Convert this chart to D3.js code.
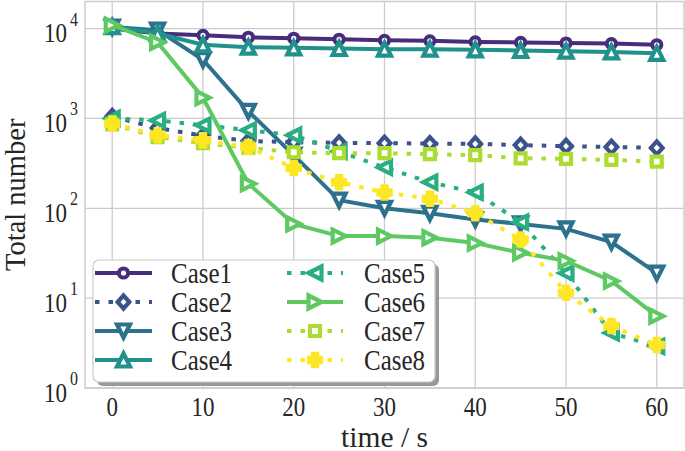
<!DOCTYPE html>
<html>
<head>
<meta charset="utf-8">
<script src="https://cdn.jsdelivr.net/npm/d3@7"></script>
<style>
  html, body { margin: 0; padding: 0; background: #fff; }
  svg { display: block; }
  text { font-family: "Liberation Serif", "Times New Roman", serif; fill: #262626; }
</style>
</head>
<body>
<svg id="chart" width="685" height="451"></svg>
<script>
// ---------------- data ----------------
const times = [0, 5, 10, 15, 20, 25, 30, 35, 40, 45, 50, 55, 60];
const seriesNames = ["Case1", "Case2", "Case3", "Case4", "Case5", "Case6", "Case7", "Case8"];
const case1 = [10000, 8800, 8400, 8000, 7800, 7600, 7400, 7300, 7100, 7000, 6900, 6800, 6600];
const case2 = [1050, 780, 640, 560, 545, 535, 530, 525, 520, 505, 490, 480, 470];
const case3 = [10400, 9600, 4500, 1200, 390, 123, 100, 88, 75, 67, 59, 42, 19];
const case4 = [10500, 8800, 6600, 6200, 6100, 6000, 5900, 5900, 5800, 5700, 5600, 5500, 5300];
const case5 = [1000, 950, 840, 740, 650, 430, 285, 195, 150, 70, 19, 4.1, 2.9];
const case6 = [10900, 7000, 1700, 188, 67, 49, 49, 47, 41, 32, 26, 15.5, 6.3];
const case7 = [860, 620, 530, 470, 420, 410, 410, 400, 390, 360, 355, 345, 330];
const case8 = [880, 650, 570, 480, 280, 195, 150, 128, 88, 45, 11.5, 4.9, 3.0];
const xTicks = [0, 10, 20, 30, 40, 50, 60];
const yTickExps = [0, 1, 2, 3, 4];
const xLabel = "time / s";
const yLabel = "Total number";

const allSeries = [case1, case2, case3, case4, case5, case6, case7, case8];
const colors = ["#472d7b", "#3b528b", "#2c728e", "#21918c", "#28ae80", "#5ec962", "#addc30", "#fde725"];
const dashed = [false, true, false, false, true, false, true, true];
const markers = ["circle", "diamond", "tdown", "tup", "tleft", "tright", "square", "plus"];

// ---------------- layout ----------------
const svg = d3.select("#chart");
const L = 85, R = 684, T = 1.5, B = 388;
const x = d3.scaleLinear().domain([-3, 63]).range([L, R]);
const y = d3.scaleLog().domain([1, 2e4]).range([B, T]);
const SY = 1.2; // vertical text stretch

// grid
const grid = svg.append("g");
grid.selectAll(".gx").data(xTicks).join("line")
  .attr("x1", d => x(d)).attr("x2", d => x(d)).attr("y1", T).attr("y2", B)
  .attr("stroke", "#cccccc").attr("stroke-width", 1.3);
grid.selectAll(".gy").data(yTickExps).join("line")
  .attr("x1", L).attr("x2", R).attr("y1", d => y(Math.pow(10, d))).attr("y2", d => y(Math.pow(10, d)))
  .attr("stroke", "#cccccc").attr("stroke-width", 1.3);

// frame
svg.append("rect").attr("x", L).attr("y", T).attr("width", R - L).attr("height", B - T)
  .attr("fill", "none").attr("stroke", "#cccccc").attr("stroke-width", 1.5);

// x tick labels
xTicks.forEach(t => {
  svg.append("text")
    .attr("transform", `translate(${x(t)},416) scale(1,${SY})`)
    .attr("text-anchor", "middle").attr("font-size", 23).text(t);
});
// y tick labels
yTickExps.forEach(e => {
  const g = svg.append("g").attr("transform", `translate(67,${y(Math.pow(10, e))}) scale(1,${SY})`);
  g.append("text").attr("x", 0).attr("y", 11.5).attr("text-anchor", "end").attr("font-size", 23).text("10");
  g.append("text").attr("x", 3).attr("y", -2.5).attr("text-anchor", "start").attr("font-size", 16).text(e);
});

// axis labels
svg.append("text").attr("transform", `translate(${(L + R) / 2},447)`)
  .attr("text-anchor", "middle").attr("font-size", 29.5).text(xLabel);
svg.append("text").attr("transform", `translate(25,${(T + B) / 2}) rotate(-90)`)
  .attr("text-anchor", "middle").attr("font-size", 28.5).text(yLabel);

// marker path generator
function markerPath(type) {
  const s = 6.5;
  switch (type) {
    case "diamond": return `M0,${-s}L${s * 0.9},0L0,${s}L${-s * 0.9},0Z`;
    case "tdown": return `M0,${s}L${-s},${-s}L${s},${-s}Z`;
    case "tup": return `M0,${-s}L${-s},${s}L${s},${s}Z`;
    case "tleft": return `M${-s},0L${s},${-s}L${s},${s}Z`;
    case "tright": return `M${s},0L${-s},${-s}L${-s},${s}Z`;
    case "square": return `M-5,-5L5,-5L5,5L-5,5Z`;
    case "plus": {
      const a = 3, b = 7;
      return `M${-a},${-b}L${a},${-b}L${a},${-a}L${b},${-a}L${b},${a}L${a},${a}L${a},${b}L${-a},${b}L${-a},${a}L${-b},${a}L${-b},${-a}L${-a},${-a}Z`;
    }
  }
  return null;
}
function drawMarker(g, type, cx, cy, color) {
  if (type === "circle") {
    g.append("circle").attr("cx", cx).attr("cy", cy).attr("r", 4.6)
      .attr("fill", "#fff").attr("stroke", color).attr("stroke-width", 4);
  } else if (type === "plus") {
    g.append("path").attr("d", markerPath(type)).attr("transform", `translate(${cx},${cy})`)
      .attr("fill", color).attr("stroke", color).attr("stroke-width", 2.5).attr("stroke-linejoin", "round");
  } else {
    g.append("path").attr("d", markerPath(type)).attr("transform", `translate(${cx},${cy})`)
      .attr("fill", "#fff").attr("stroke", color).attr("stroke-width", 4.2).attr("stroke-linejoin", "miter");
  }
}

// series
const line = d3.line().x((d, i) => x(times[i])).y(d => y(d));
const plot = svg.append("g");
allSeries.forEach((vals, k) => {
  const g = plot.append("g");
  g.append("path").datum(vals).attr("d", line)
    .attr("fill", "none").attr("stroke", colors[k]).attr("stroke-width", 4)
    .attr("stroke-dasharray", dashed[k] ? "4.5,9" : null);
  vals.forEach((v, i) => drawMarker(g, markers[k], x(times[i]), y(v), colors[k]));
});

// legend
const lg = svg.append("g");
const lx = 93, ly = 260, lw = 342, lh = 122;
lg.append("rect").attr("x", lx + 4).attr("y", ly + 4).attr("width", lw).attr("height", lh)
  .attr("rx", 6).attr("fill", "#999999");
lg.append("rect").attr("x", lx).attr("y", ly).attr("width", lw).attr("height", lh)
  .attr("rx", 6).attr("fill", "#fff").attr("stroke", "#cccccc").attr("stroke-width", 1.2);
const rowsY = [273, 302, 331, 360];
const colX = [[95, 152, 171], [287, 343, 364]];
seriesNames.forEach((name, k) => {
  const c = Math.floor(k / 4), r = k % 4;
  const [x1, x2, tx] = colX[c];
  const cy = rowsY[r];
  lg.append("line").attr("x1", x1).attr("x2", x2).attr("y1", cy).attr("y2", cy)
    .attr("stroke", colors[k]).attr("stroke-width", 4)
    .attr("stroke-dasharray", dashed[k] ? "4.5,9" : null);
  drawMarker(lg, markers[k], (x1 + x2) / 2, cy, colors[k]);
  lg.append("text").attr("transform", `translate(${tx},${cy + 9.5}) scale(1,1.15)`)
    .attr("font-size", 25).text(name);
});
</script>
</body>
</html>
